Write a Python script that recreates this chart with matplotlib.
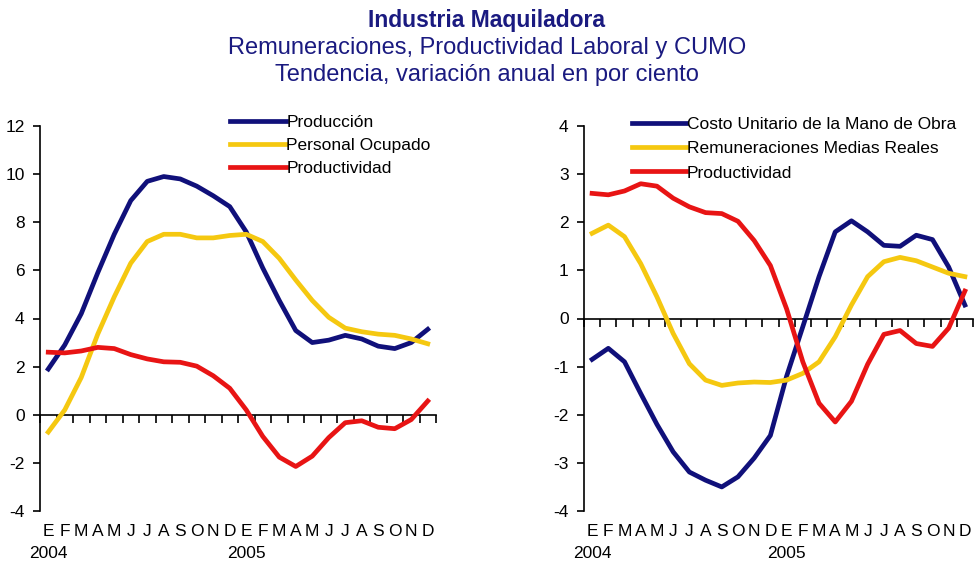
import matplotlib.pyplot as plt
import numpy as np

plt.rcParams['font.family'] = ['Liberation Sans', 'DejaVu Sans']

months = ['E', 'F', 'M', 'A', 'M', 'J', 'J', 'A', 'S', 'O', 'N', 'D'] * 2
years = ['2004', '2005']

produccion = [1.9, 2.9, 4.2, 5.9, 7.5, 8.9, 9.7, 9.9, 9.8, 9.5, 9.1, 8.65,
              7.6, 6.1, 4.75, 3.5, 3.0, 3.1, 3.3, 3.15, 2.85, 2.75, 3.0, 3.55]
personal = [-0.72, 0.2, 1.55, 3.35, 4.9, 6.3, 7.2, 7.5, 7.5, 7.35, 7.35, 7.45,
            7.5, 7.2, 6.5, 5.6, 4.75, 4.05, 3.6, 3.45, 3.35, 3.3, 3.15, 2.95]
productividad = [2.6, 2.57, 2.65, 2.8, 2.75, 2.5, 2.32, 2.2, 2.18, 2.02, 1.62, 1.1,
                 0.2, -0.9, -1.76, -2.15, -1.72, -0.95, -0.33, -0.25, -0.52, -0.58, -0.2, 0.57]
cumo = [-0.85, -0.62, -0.9, -1.56, -2.2, -2.77, -3.19, -3.36, -3.5, -3.29, -2.9, -2.43,
        -1.2, -0.17, 0.87, 1.8, 2.03, 1.8, 1.52, 1.5, 1.73, 1.64, 1.07, 0.28]
remuneraciones = [1.77, 1.94, 1.7, 1.14, 0.45, -0.31, -0.94, -1.28, -1.39, -1.34, -1.32, -1.33,
                  -1.28, -1.14, -0.9, -0.38, 0.28, 0.87, 1.18, 1.27, 1.2, 1.07, 0.94, 0.87]

BLUE = '#10107a'
YELLOW = '#f5c810'
RED = '#e81414'
NAVY = '#1a1a80'
LW = 3.4
FS = 12.5

fig = plt.figure(figsize=(9.74, 5.63), dpi=100)
fig.text(0.5, 0.964, 'Industria Maquiladora', ha='center', va='center',
         fontsize=16.5, fontweight='bold', color=NAVY)
fig.text(0.5, 0.915, 'Remuneraciones, Productividad Laboral y CUMO', ha='center',
         va='center', fontsize=17, color=NAVY)
fig.text(0.5, 0.867, 'Tendencia, variación anual en por ciento', ha='center',
         va='center', fontsize=17, color=NAVY)

x = np.arange(len(months))


def setup(ax, ylim, yticks):
    ax.set_xlim(-0.5, len(months) - 0.5)
    ax.set_ylim(*ylim)
    ax.set_yticks(yticks)
    ax.set_yticklabels([str(t) for t in yticks], fontsize=FS)
    for s in ['top', 'right', 'bottom']:
        ax.spines[s].set_visible(False)
    ax.spines['left'].set_linewidth(1.2)
    ax.tick_params(axis='y', direction='out', length=5, width=1.2, pad=6)
    ax.set_xticks(x)
    ax.set_xticklabels(months, fontsize=FS)
    ax.tick_params(axis='x', length=0, pad=9)
    # zero line with month separators
    sec = ax.secondary_xaxis(0, transform=ax.transData)
    sec.set_xticks(np.arange(len(months) + 1) - 0.5)
    sec.set_xticklabels([])
    sec.tick_params(direction='out', length=6, width=1.2)
    sec.spines['bottom'].set_linewidth(1.2)
    for j, yr in enumerate(years):
        ax.annotate(yr, xy=(j * 12, 0), xycoords=('data', 'axes fraction'),
                    xytext=(0, -25), textcoords='offset points',
                    ha='center', va='top', fontsize=FS)


ax1 = fig.add_axes([40 / 974, 52 / 563, 396 / 974, 385 / 563])
setup(ax1, (-4, 12), list(range(-4, 13, 2)))
ax1.plot(x, produccion, color=BLUE, lw=LW, label='Producción')
ax1.plot(x, personal, color=YELLOW, lw=LW, label='Personal Ocupado')
ax1.plot(x, productividad, color=RED, lw=LW, label='Productividad')
ax1.legend(loc='upper left', bbox_to_anchor=(230 / 974, 1 - 115 / 563),
           bbox_transform=fig.transFigure, frameon=False, fontsize=FS,
           handlelength=3.2, handletextpad=0.05, labelspacing=0.46,
           borderpad=0, borderaxespad=0)

ax2 = fig.add_axes([584 / 974, 52 / 563, 389 / 974, 385 / 563])
setup(ax2, (-4, 4), list(range(-4, 5)))
ax2.plot(x, cumo, color=BLUE, lw=LW, label='Costo Unitario de la Mano de Obra')
ax2.plot(x, remuneraciones, color=YELLOW, lw=LW, label='Remuneraciones Medias Reales')
ax2.plot(x, productividad, color=RED, lw=LW, label='Productividad')
ax2.legend(loc='upper left', bbox_to_anchor=(632 / 974, 1 - 117 / 563),
           bbox_transform=fig.transFigure, frameon=False, fontsize=FS,
           handlelength=3.1, handletextpad=0.05, labelspacing=0.52,
           borderpad=0, borderaxespad=0)

fig.savefig('out.png', dpi=100)
